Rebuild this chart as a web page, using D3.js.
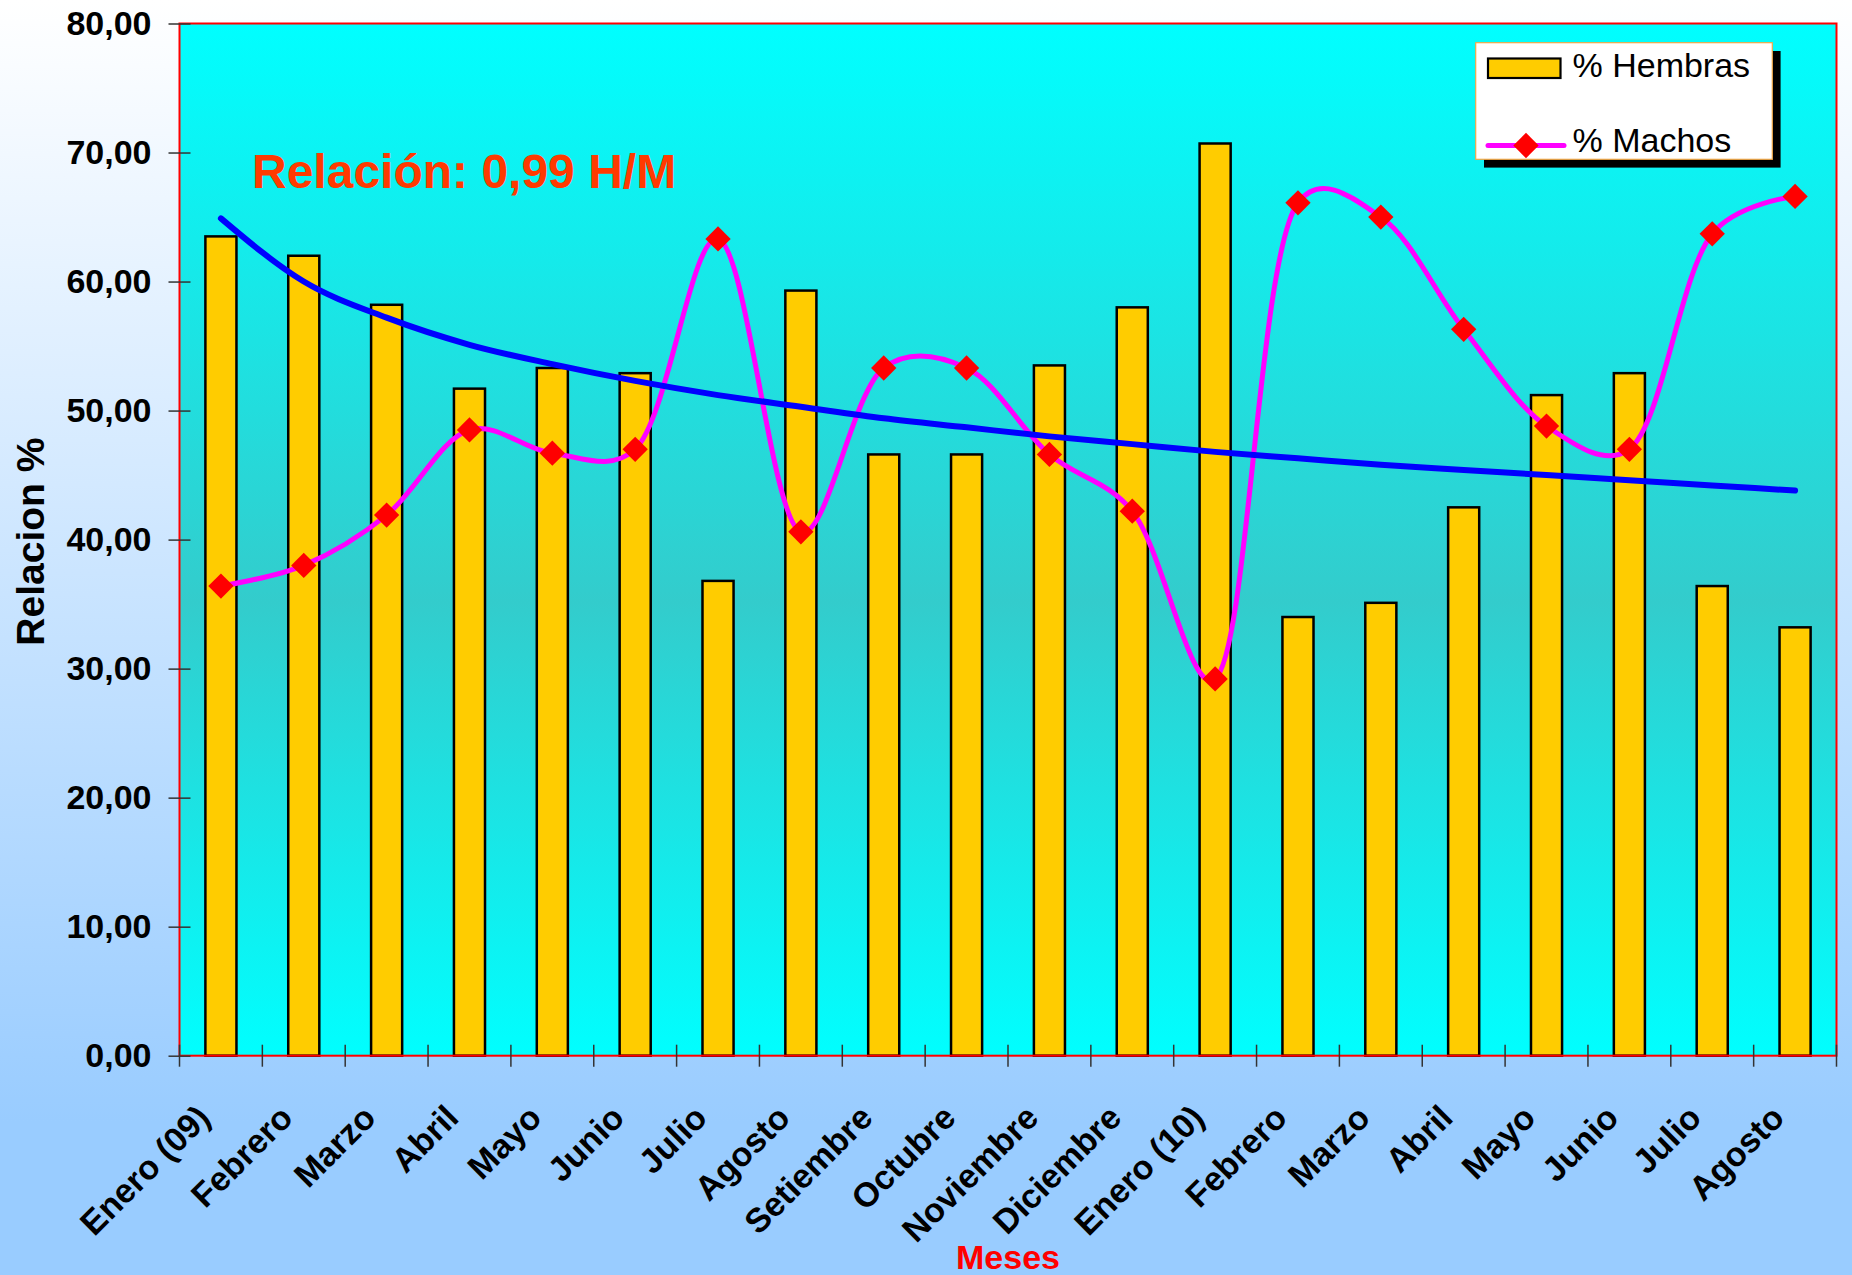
<!DOCTYPE html>
<html>
<head>
<meta charset="utf-8">
<script src="https://cdn.jsdelivr.net/npm/d3@7"></script>
<style>
  html, body { margin: 0; padding: 0; }
  svg { display: block; font-family: "Liberation Sans", Arial, sans-serif; }
</style>
</head>
<body>
<svg id="chart" width="1852" height="1275"></svg>
<script>
// Monthly sex ratio, January 2009 to August 2010
const months = ["Enero (09)", "Febrero", "Marzo", "Abril", "Mayo", "Junio", "Julio",
  "Agosto", "Setiembre", "Octubre", "Noviembre", "Diciembre", "Enero (10)", "Febrero",
  "Marzo", "Abril", "Mayo", "Junio", "Julio", "Agosto"];
const hembras = [63.5, 62.0, 58.2, 51.7, 53.3, 52.9, 36.8, 59.3, 46.6, 46.6,
  53.5, 58.0, 70.7, 34.0, 35.1, 42.5, 51.2, 52.9, 36.4, 33.2];
const machos = [36.4, 38.0, 41.9, 48.5, 46.7, 47.0, 63.3, 40.6, 53.3, 53.3,
  46.6, 42.2, 29.2, 66.1, 65.0, 56.3, 48.8, 47.0, 63.7, 66.6];
// logarithmic trend of % Hembras
const tendencia = [64.9, 60.0, 57.2, 55.1, 53.6, 52.3, 51.2, 50.3, 49.4, 48.7,
  48.0, 47.4, 46.8, 46.3, 45.8, 45.4, 45.0, 44.6, 44.2, 43.8];
const yTicks = [0, 10, 20, 30, 40, 50, 60, 70, 80];
const seriesNames = ["% Hembras", "% Machos"];
const relacionTexto = "Relación: 0,99 H/M";

const W = 1852, H = 1275;
const plot = { left: 179.5, right: 1836.5, top: 23.5, bottom: 1055.7 };
const svg = d3.select("#chart");
const defs = svg.append("defs");

// page background
const bg = defs.append("linearGradient").attr("id", "bgGrad")
  .attr("x1", 0).attr("y1", 0).attr("x2", 0).attr("y2", 1);
bg.append("stop").attr("offset", 0).attr("stop-color", "#ffffff");
bg.append("stop").attr("offset", 0.88).attr("stop-color", "#99ccff");
bg.append("stop").attr("offset", 1).attr("stop-color", "#99ccff");
svg.append("rect").attr("width", W).attr("height", H).attr("fill", "url(#bgGrad)");

// plot area background
const pg = defs.append("linearGradient").attr("id", "plotGrad")
  .attr("x1", 0).attr("y1", 0).attr("x2", 0).attr("y2", 1);
pg.append("stop").attr("offset", 0).attr("stop-color", "#00ffff");
pg.append("stop").attr("offset", 0.56).attr("stop-color", "#33cccc");
pg.append("stop").attr("offset", 1).attr("stop-color", "#00ffff");
svg.append("rect")
  .attr("x", plot.left).attr("y", plot.top)
  .attr("width", plot.right - plot.left).attr("height", plot.bottom - plot.top)
  .attr("fill", "url(#plotGrad)");

const idx = months.map((m, i) => i);
const x = d3.scaleBand().domain(idx).range([plot.left, plot.right]).padding(0);
const y = d3.scaleLinear().domain([0, 80]).range([plot.bottom, plot.top]);
const bw = x.bandwidth();
const cx = i => x(i) + bw / 2;

const esLocale = d3.formatLocale({ decimal: ",", thousands: ".", grouping: [3], currency: ["", ""] });
const fmt = esLocale.format(".2f");

// bars: % Hembras
const barW = bw * 0.375;
svg.append("g").selectAll("rect").data(hembras).join("rect")
  .attr("x", (d, i) => cx(i) - barW / 2)
  .attr("y", d => y(d))
  .attr("width", barW)
  .attr("height", d => y(0) - y(d))
  .attr("fill", "#ffcc00")
  .attr("stroke", "#000")
  .attr("stroke-width", 2.5);

// line: % Machos (smoothed)
const lineM = d3.line().x((d, i) => cx(i)).y(d => y(d)).curve(d3.curveCatmullRom.alpha(0.3));
svg.append("path").datum(machos)
  .attr("d", lineM)
  .attr("fill", "none")
  .attr("stroke", "#ff00ff")
  .attr("stroke-width", 5)
  .attr("stroke-linejoin", "round");

const diamond = d3.symbol().type(d3.symbolSquare).size(320);
svg.append("g").selectAll("path").data(machos).join("path")
  .attr("d", diamond)
  .attr("transform", (d, i) => `translate(${cx(i)},${y(d)}) rotate(45)`)
  .attr("fill", "#ff0000");

// trend line
const lineT = d3.line().x((d, i) => cx(i)).y(d => y(d)).curve(d3.curveMonotoneX);
svg.append("path").datum(tendencia)
  .attr("d", lineT)
  .attr("fill", "none")
  .attr("stroke", "#0000ff")
  .attr("stroke-width", 6)
  .attr("stroke-linecap", "round");

// plot border
svg.append("rect")
  .attr("x", plot.left).attr("y", plot.top)
  .attr("width", plot.right - plot.left).attr("height", plot.bottom - plot.top)
  .attr("fill", "none").attr("stroke", "#ff0000").attr("stroke-width", 2);

// y axis
const yAxis = svg.append("g")
  .attr("transform", `translate(${plot.left},0)`)
  .call(d3.axisLeft(y).tickValues(yTicks).tickFormat(fmt).tickSize(11).tickPadding(17));
yAxis.select(".domain").remove();
yAxis.selectAll(".tick line").attr("x1", 11).attr("x2", -11)
  .attr("stroke", "#333").attr("stroke-width", 1.5);
yAxis.selectAll(".tick text")
  .attr("fill", "#000").attr("font-size", 34).attr("font-weight", "bold")
  .attr("font-family", "'Liberation Sans', Arial, sans-serif");

// x axis: ticks on category boundaries, labels at centres
const boundaries = idx.map(i => x(i)).concat([plot.right]);
svg.append("g").selectAll("line").data(boundaries).join("line")
  .attr("x1", d => d).attr("x2", d => d)
  .attr("y1", plot.bottom - 11).attr("y2", plot.bottom + 11)
  .attr("stroke", "#333").attr("stroke-width", 1.5);

const xAxis = svg.append("g")
  .attr("transform", `translate(0,${plot.bottom})`)
  .call(d3.axisBottom(x).tickSize(0).tickFormat(i => months[i]));
xAxis.select(".domain").remove();
xAxis.selectAll(".tick text")
  .attr("y", 0).attr("dy", 0)
  .attr("text-anchor", "end")
  .attr("transform", "translate(-9,64) rotate(-45)")
  .attr("fill", "#000").attr("font-size", 34).attr("font-weight", "bold")
  .attr("font-family", "'Liberation Sans', Arial, sans-serif");

// axis titles
svg.append("text")
  .attr("transform", `translate(44,${(plot.top + plot.bottom) / 2 + 2}) rotate(-90)`)
  .attr("text-anchor", "middle")
  .attr("font-size", 39).attr("font-weight", "bold").attr("fill", "#000")
  .text("Relacion %");

svg.append("text")
  .attr("x", (plot.left + plot.right) / 2).attr("y", 1269)
  .attr("text-anchor", "middle")
  .attr("font-size", 34).attr("font-weight", "bold").attr("fill", "#ff0000")
  .text("Meses");

// annotation
svg.append("text")
  .attr("x", 252).attr("y", 188)
  .attr("font-size", 48).attr("font-weight", "bold").attr("fill", "#ff3a00")
  .text(relacionTexto);

// legend
const lg = svg.append("g");
lg.append("rect").attr("x", 1484).attr("y", 51).attr("width", 296.6).attr("height", 116.6).attr("fill", "#000");
lg.append("rect").attr("x", 1475.7).attr("y", 42.7).attr("width", 296.6).attr("height", 116.6)
  .attr("fill", "#fff").attr("stroke", "#f0a848").attr("stroke-width", 1.2);
lg.append("rect").attr("x", 1488).attr("y", 58.5).attr("width", 72.5).attr("height", 19.5)
  .attr("fill", "#ffcc00").attr("stroke", "#000").attr("stroke-width", 2.2);
lg.append("line").attr("x1", 1488).attr("x2", 1564).attr("y1", 145.5).attr("y2", 145.5)
  .attr("stroke", "#ff00ff").attr("stroke-width", 5).attr("stroke-linecap", "round");
lg.append("path").attr("d", diamond)
  .attr("transform", "translate(1526,145.5) rotate(45)").attr("fill", "#ff0000");
lg.selectAll("text.lab").data(seriesNames).join("text").attr("class", "lab")
  .attr("x", 1572.5).attr("y", (d, i) => i === 0 ? 76.5 : 151.5)
  .attr("font-size", 34).attr("fill", "#000")
  .text(d => d);
</script>
</body>
</html>
